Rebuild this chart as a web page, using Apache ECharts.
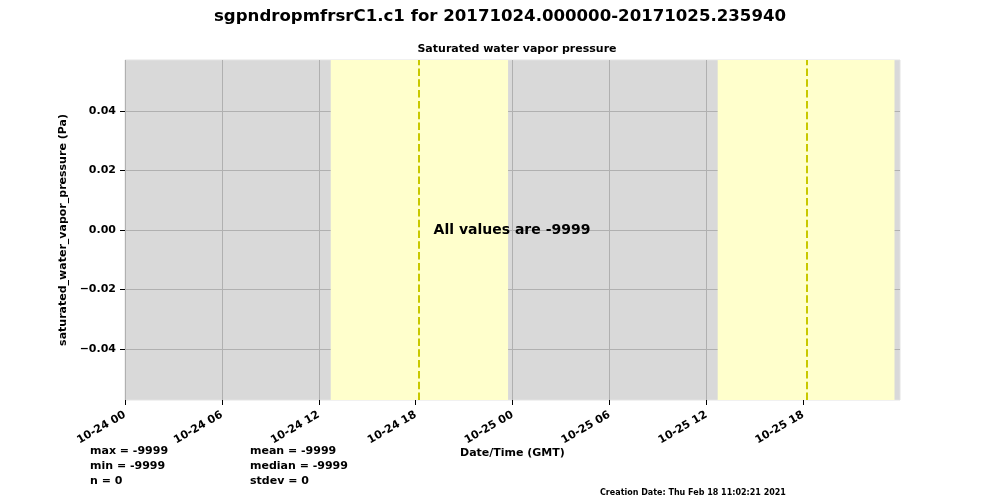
<!DOCTYPE html>
<html>
<head>
<meta charset="utf-8">
<script src="https://cdn.jsdelivr.net/npm/echarts@6/dist/echarts.min.js"></script>
<style>
  html, body { margin: 0; padding: 0; background: #fff; }
  #chart { width: 1000px; height: 500px; }
</style>
</head>
<body>
<div id="chart"></div>
<script>
// hours since 2017-10-24 00:00 GMT
const dayStarts = ["10-24", "10-25"];
const xTicks = [0, 6, 12, 18, 24, 30, 36, 42];
const yTicks = [-0.04, -0.02, 0.0, 0.02, 0.04];
const daylight = [[12.74, 23.72], [36.7, 47.65]];
const solarNoon = [18.2, 42.2];
const values = [];
const statsLeft = ["max = -9999", "min = -9999", "n = 0"];
const statsRight = ["mean = -9999", "median = -9999", "stdev = 0"];

const font = "DejaVu Sans";

function hourLabel(v) {
  const d = Math.floor(v / 24);
  const h = Math.round(v - d * 24);
  return dayStarts[d] + " " + (h < 10 ? "0" + h : "" + h);
}

const myChart = echarts.init(document.getElementById("chart"));

const graphics = [];
statsLeft.forEach((t, i) => {
  graphics.push({ type: "text", left: 90, top: 446 + i * 15,
    style: { text: t, font: "bold 11px " + font, fill: "#000" } });
});
statsRight.forEach((t, i) => {
  graphics.push({ type: "text", left: 250, top: 446 + i * 15,
    style: { text: t, font: "bold 11px " + font, fill: "#000" } });
});
graphics.push({ type: "text", left: 460, top: 448,
  style: { text: "Date/Time (GMT)", font: "bold 11px " + font, fill: "#000" } });
graphics.push({ type: "text", left: 600, top: 489,
  style: { text: "Creation Date: Thu Feb 18 11:02:21 2021", font: "bold 8px " + font, fill: "#000" } });
graphics.push({ type: "text", x: 512, y: 230, z: 100,
  style: { text: "All values are -9999", font: "bold 14px " + font, fill: "#000",
    align: "center", verticalAlign: "middle" } });

myChart.setOption({
  animation: false,
  title: [
    { text: "sgpndropmfrsrC1.c1 for 20171024.000000-20171025.235940", left: "center", top: 3,
      textStyle: { fontFamily: font, fontSize: 16.6, fontWeight: "bold", color: "#000" } },
    { text: "Saturated water vapor pressure", left: 512, top: 39, textAlign: "center",
      textStyle: { fontFamily: font, fontSize: 11, fontWeight: "bold", color: "#000" } }
  ],
  grid: {
    left: 125, right: 100, top: 60, bottom: 100,
    show: true, backgroundColor: "#d9d9d9", borderColor: "#e3e3e3", borderWidth: 1
  },
  xAxis: {
    type: "value",
    min: 0,
    max: 47.99,
    interval: 6,
    axisLine: { show: false, onZero: false },
    axisTick: { show: true, length: 5, customValues: xTicks, lineStyle: { color: "#000" } },
    axisLabel: {
      customValues: xTicks,
      rotate: 30, margin: 14,
      fontFamily: font, fontSize: 11, fontWeight: "bold", color: "#000",
      formatter: v => hourLabel(v)
    },
    splitLine: { show: true, lineStyle: { color: "#b0b0b0", width: 1 } }
  },
  yAxis: {
    type: "value",
    min: -0.0571,
    max: 0.0571,
    name: "saturated_water_vapor_pressure (Pa)",
    nameLocation: "middle",
    nameGap: 50,
    nameTextStyle: { fontFamily: font, fontSize: 11, fontWeight: "bold", color: "#000" },
    axisLine: { show: false, onZero: false },
    axisTick: { show: true, length: 5, customValues: yTicks, lineStyle: { color: "#000" } },
    axisLabel: {
      customValues: yTicks, margin: 9,
      fontFamily: font, fontSize: 11, fontWeight: "bold", color: "#000",
      formatter: v => (v < 0 ? "\u2212" + Math.abs(v).toFixed(2) : v.toFixed(2))
    },
    splitLine: { show: true, lineStyle: { color: "#b0b0b0", width: 1 } }
  },
  graphic: graphics,
  series: [
    {
      type: "line",
      data: values,
      symbol: "none",
      markArea: {
        silent: true,
        itemStyle: { color: "#ffffcc" },
        data: daylight.map(d => [{ xAxis: d[0] }, { xAxis: d[1] }])
      },
      markLine: {
        silent: true,
        symbol: "none",
        label: { show: false },
        lineStyle: { color: "#c8c800", type: [7.5, 3.3], width: 2 },
        data: solarNoon.map(v => ({ xAxis: v }))
      }
    }
  ]
});
</script>
</body>
</html>
